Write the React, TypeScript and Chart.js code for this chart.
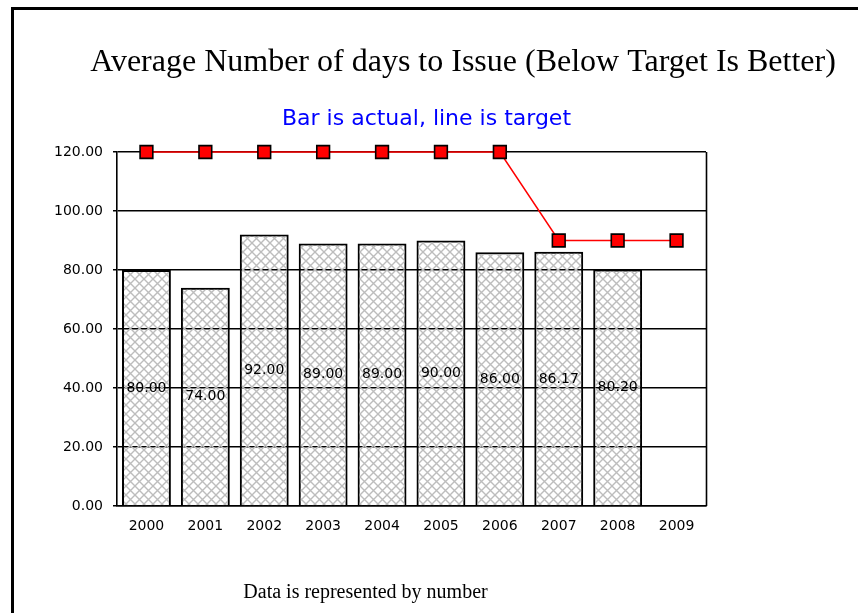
import React, { useEffect, useRef } from 'react';
import { Chart, registerables } from 'chart.js';

Chart.register(...registerables);

const categories = ['2000', '2001', '2002', '2003', '2004', '2005', '2006', '2007', '2008', '2009'];
const actualValues: (number | null)[] = [80, 74, 92, 89, 89, 90, 86, 86.17, 80.2, null];
const targetValues = [120, 120, 120, 120, 120, 120, 120, 90, 90, 90];
const yMin = 0;
const yMax = 120;
const yStep = 20;
const titleText = 'Average Number of days to Issue (Below Target Is Better)';
const subtitleText = 'Bar is actual, line is target';
const footerText = 'Data is represented by number';

function makeHatch(): CanvasPattern | string {
  const c = document.createElement('canvas');
  const s = 9;
  c.width = s;
  c.height = s;
  const g = c.getContext('2d');
  if (!g) return '#e0e0e0';
  g.clearRect(0, 0, s, s);
  g.strokeStyle = '#bdbdbd';
  g.lineWidth = 1.4;
  g.beginPath();
  g.moveTo(0, 0);
  g.lineTo(s, s);
  g.moveTo(s, 0);
  g.lineTo(0, s);
  g.stroke();
  const p = g.createPattern(c, 'repeat');
  return p || '#e0e0e0';
}

const decorPlugin = {
  id: 'decor',
  beforeDraw(chart: any) {
    const ctx = chart.ctx;
    ctx.save();
    ctx.fillStyle = '#ffffff';
    ctx.fillRect(0, 0, chart.width, chart.height);
    ctx.strokeStyle = '#000000';
    ctx.lineWidth = 3;
    ctx.strokeRect(12.5, 8.5, 1000, 1000);
    ctx.restore();
  },
  afterDatasetsDraw(chart: any) {
    const ctx = chart.ctx;
    const yScale = chart.scales.y;
    const meta = chart.getDatasetMeta(0);
    ctx.save();
    ctx.fillStyle = '#000000';
    ctx.font = '14px "DejaVu Sans"';
    ctx.textAlign = 'center';
    ctx.textBaseline = 'middle';
    meta.data.forEach((el: any, i: number) => {
      const v = actualValues[i];
      if (v === null || v === undefined) return;
      const y = yScale.getPixelForValue(v / 2);
      ctx.fillText(v.toFixed(2), el.x, y);
    });
    ctx.restore();
  },
  afterDraw(chart: any) {
    const ctx = chart.ctx;
    const a = chart.chartArea;
    ctx.save();
    ctx.strokeStyle = '#000000';
    ctx.lineWidth = 1.6;
    ctx.beginPath();
    ctx.moveTo(Math.round(a.right) + 0.5, a.top);
    ctx.lineTo(Math.round(a.right) + 0.5, a.bottom);
    ctx.stroke();

    ctx.fillStyle = '#000000';
    ctx.textAlign = 'center';
    ctx.textBaseline = 'alphabetic';
    ctx.font = '32px "Liberation Serif"';
    ctx.fillText(titleText, 463, 71);

    ctx.fillStyle = '#0000ff';
    ctx.font = '22px "DejaVu Sans"';
    ctx.fillText(subtitleText, 426.5, 125);

    ctx.fillStyle = '#000000';
    ctx.font = '20px "Liberation Serif"';
    ctx.fillText(footerText, 365.5, 598);
    ctx.restore();
  },
};

export default function App() {
  const ref = useRef<HTMLCanvasElement | null>(null);

  useEffect(() => {
    if (!ref.current) return;
    const hatch = makeHatch();
    const chart = new Chart(ref.current, {
      type: 'bar',
      data: {
        labels: categories,
        datasets: [
          {
            type: 'bar',
            label: 'Actual',
            data: actualValues,
            backgroundColor: hatch as any,
            borderColor: '#000000',
            borderWidth: 2,
            barPercentage: 0.83,
            categoryPercentage: 1,
            order: 2,
          },
          {
            type: 'line',
            label: 'Target',
            data: targetValues,
            borderColor: '#ff0000',
            borderWidth: 1.5,
            pointStyle: 'rect',
            pointRadius: 9,
            pointBackgroundColor: '#ff0000',
            pointBorderColor: '#000000',
            pointBorderWidth: 1.6,
            tension: 0,
            clip: false as any,
            order: 1,
          } as any,
        ],
      },
      options: {
        responsive: false,
        animation: false,
        devicePixelRatio: 1,
        layout: { padding: { left: 0, top: 152, right: 152, bottom: 67 } },
        plugins: {
          legend: { display: false },
          tooltip: { enabled: false },
          title: { display: false },
        },
        scales: {
          x: {
            offset: true,
            grid: { display: false, drawTicks: false },
            border: { display: true, color: '#000000', width: 1.6 },
            ticks: {
              color: '#000000',
              font: { family: 'DejaVu Sans', size: 14 },
              padding: 12,
              maxRotation: 0,
              autoSkip: false,
            },
            afterFit(scale: any) {
              scale.height = 40;
            },
          },
          y: {
            min: yMin,
            max: yMax,
            grid: { color: '#000000', lineWidth: 1.5, drawTicks: true, tickLength: 4 },
            border: { display: true, color: '#000000', width: 1.6 },
            ticks: {
              stepSize: yStep,
              color: '#000000',
              font: { family: 'DejaVu Sans', size: 14 },
              padding: 10,
              callback: (v: any) => Number(v).toFixed(2),
            },
            afterFit(scale: any) {
              scale.width = 117;
            },
          },
        },
      },
      plugins: [decorPlugin],
    });
    return () => chart.destroy();
  }, []);

  return (
    <canvas
      ref={ref}
      width={858}
      height={613}
      style={{ position: 'fixed', left: 0, top: 0, width: 858, height: 613, display: 'block' }}
    />
  );
}
